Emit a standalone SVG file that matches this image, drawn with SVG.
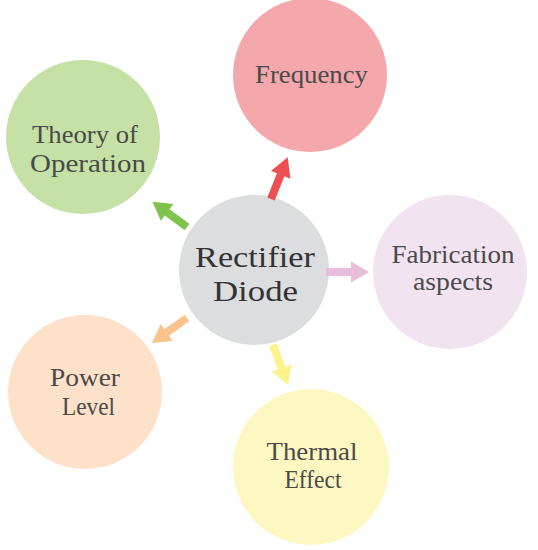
<svg xmlns="http://www.w3.org/2000/svg" xmlns:xlink="http://www.w3.org/1999/xlink" width="538" height="550" viewBox="0 0 538 550">
<style>
text{font-family:"Liberation Serif","DejaVu Serif",serif;fill:#4a4a4a;text-anchor:middle}
.t{font-size:25px}
.c{font-size:30px;fill:#333}
</style>
<defs>
<path id="arr" d="M0,-4 L26,-4 L26,-10.5 L45,0 L26,10.5 L26,4 L0,4 Z"/>
</defs>
<rect width="538" height="550" fill="#fff"/>
<g id="frequency"><circle cx="310" cy="75" r="77" fill="#f4a8ab"/><text class="t" x="311.5" y="83" textLength="113" lengthAdjust="spacingAndGlyphs">Frequency</text></g>
<g id="theory"><circle cx="83" cy="137" r="77" fill="#c5e1a6"/><text class="t" x="85" y="143" textLength="106" lengthAdjust="spacingAndGlyphs">Theory of</text><text class="t" x="88" y="172" textLength="116" lengthAdjust="spacingAndGlyphs">Operation</text></g>
<g id="fabrication"><circle cx="450" cy="272" r="77" fill="#f1e3ef"/><text class="t" x="453" y="263" textLength="123" lengthAdjust="spacingAndGlyphs">Fabrication</text><text class="t" x="453" y="290" textLength="80" lengthAdjust="spacingAndGlyphs">aspects</text></g>
<g id="power"><circle cx="85" cy="392" r="77" fill="#fde2c9"/><text class="t" x="85" y="386" textLength="70" lengthAdjust="spacingAndGlyphs">Power</text><text class="t" x="88.5" y="415" textLength="53" lengthAdjust="spacingAndGlyphs">Level</text></g>
<g id="thermal"><circle cx="311" cy="467" r="78" fill="#fdf8c2"/><text class="t" x="312" y="460" textLength="91" lengthAdjust="spacingAndGlyphs">Thermal</text><text class="t" x="313" y="488" textLength="57" lengthAdjust="spacingAndGlyphs">Effect</text></g>
<g id="center"><circle cx="254" cy="270" r="75" fill="#dcdddf"/><text class="c" x="255" y="266.5" textLength="120" lengthAdjust="spacingAndGlyphs">Rectifier</text><text class="c" x="255.5" y="300.5" textLength="85" lengthAdjust="spacingAndGlyphs">Diode</text></g>
<g id="connectors">
<use xlink:href="#arr" fill="#ee4f51" transform="translate(271,199) rotate(-68.2)"/>
<use xlink:href="#arr" fill="#80c34c" transform="translate(187,227) rotate(-143.7) scale(0.95,1)"/>
<use xlink:href="#arr" fill="#e8bedb" transform="translate(326,272) scale(0.96,1)"/>
<use xlink:href="#arr" fill="#fcc48c" transform="translate(187,318) rotate(144.5) scale(0.96,1)"/>
<use xlink:href="#arr" fill="#fdf28c" transform="translate(273,345) rotate(69.4) scale(0.95,1)"/>
</g>
</svg>
